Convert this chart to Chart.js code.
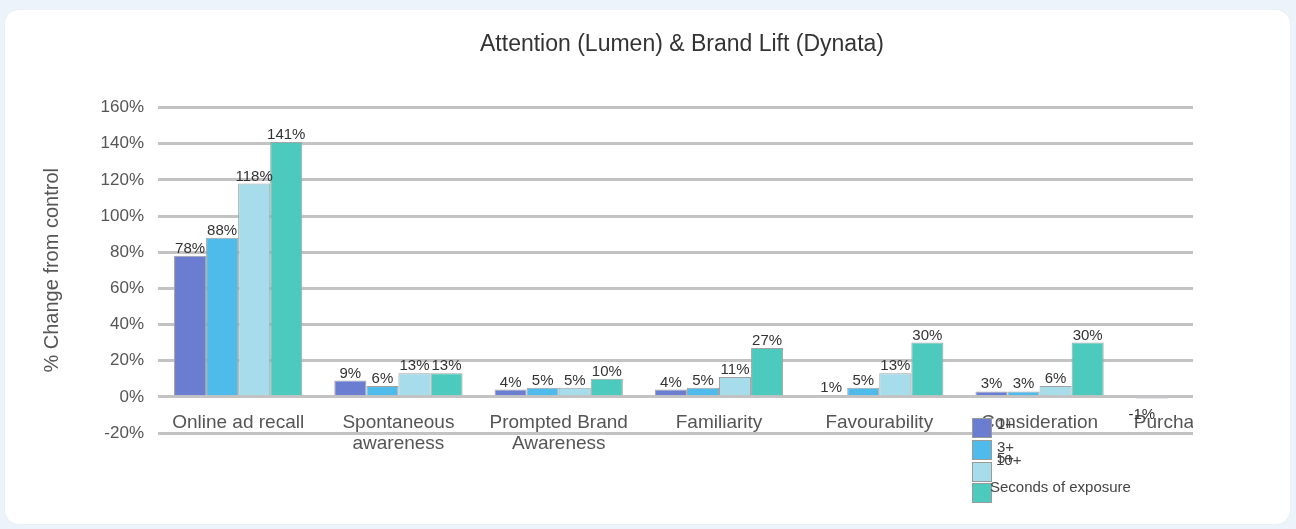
<!DOCTYPE html>
<html>
<head>
<meta charset="utf-8">
<script src="https://cdn.jsdelivr.net/npm/chart.js@4.4.0/dist/chart.umd.min.js"></script>
<style>
    html, body { margin: 0; padding: 0; background: #ecf3fa; overflow: hidden; }
    body { width: 1296px; height: 529px; position: relative; font-family: 'Liberation Sans', Arial, sans-serif; }
    .card { position: absolute; left: 5px; top: 10px; width: 1285px; height: 514px; background: #fff; border-radius: 14px; box-shadow: 0 0 2px rgba(0, 0, 0, 0.06); }
    .wrap { position: absolute; left: 0; top: 0; width: 1296px; height: 529px; overflow: hidden; }
    #chart { position: absolute; left: 0; top: 0; }
    .lg-box { position: absolute; left: 972px; width: 18px; height: 18px; border: 1px solid #9a9a9a; }
    .lg-text { position: absolute; font-size: 15px; line-height: 18px; color: #444; white-space: nowrap; }
</style>
</head>
<body>
<div class="card"></div>
<div class="wrap">
    <canvas id="chart" width="1328" height="529"></canvas>
    <div id="legend"></div>
</div>
<script>
const categories = [
    'Online ad recall',
    ['Spontaneous', 'awareness'],
    ['Prompted Brand', 'Awareness'],
    'Familiarity',
    'Favourability',
    'Consideration',
    'Purchase intent'
];
const seriesLabels = ['1+', '3+', '5+', '10+'];
const legendCaption = 'Seconds of exposure';
const seriesColors = ['#6b7dd0', '#4fbbea', '#a7dcea', '#4ccabd'];

// values in % change from control, per exposure group
const exp1 = [78, 9, 4, 4, 1, 3, -1];
const exp3 = [88, 6, 5, 5, 5, 3, null];
const exp5 = [118, 13, 5, 11, 13, 6, null];
const exp10 = [141, 13, 10, 27, 30, 30, null];

const yTicks = [160, 140, 120, 100, 80, 60, 40, 20, 0, -20];

const FONT = "'Liberation Sans', Arial, sans-serif";
const CLIP_RIGHT = 1193;

const valueLabels = {
    id: 'valueLabels',
    afterDatasetsDraw(chart) {
        const ctx = chart.ctx;
        ctx.save();
        ctx.font = '15px ' + FONT;
        ctx.fillStyle = '#333';
        ctx.textAlign = 'center';
        ctx.textBaseline = 'alphabetic';
        chart.data.datasets.forEach((ds, di) => {
            chart.getDatasetMeta(di).data.forEach((bar, i) => {
                const v = ds.data[i];
                if (v === null) return;
                if (v >= 0) {
                    ctx.fillText(v + '%', bar.x, bar.y - 3);
                } else {
                    ctx.fillText(v + '%', bar.x - 10, bar.y + 20);
                }
            });
        });
        ctx.restore();
    }
};

// the original chart is cut off on the right
const clipRight = {
    id: 'clipRight',
    afterDraw(chart) {
        chart.ctx.clearRect(CLIP_RIGHT, 85, chart.width - CLIP_RIGHT, 385);
    }
};

const datasets = [exp1, exp3, exp5, exp10].map((values, i) => ({
    label: seriesLabels[i],
    data: values,
    backgroundColor: seriesColors[i],
    borderColor: '#a3a3a3',
    borderWidth: 1,
    categoryPercentage: 0.8,
    barPercentage: 1.0
}));

new Chart(document.getElementById('chart'), {
    type: 'bar',
    data: { labels: categories, datasets: datasets },
    options: {
        responsive: false,
        animation: false,
        layout: { padding: { left: 36, right: 0, top: 0, bottom: 96 } },
        plugins: {
            legend: { display: false },
            tooltip: { enabled: false },
            title: {
                display: true,
                text: 'Attention (Lumen) & Brand Lift (Dynata)',
                color: '#333',
                font: { family: FONT, size: 23, weight: 'normal' },
                padding: { top: 31, bottom: 49 }
            }
        },
        scales: {
            x: {
                position: { y: 0 },
                grid: { display: false, drawTicks: false },
                border: { display: false },
                ticks: {
                    color: '#555',
                    font: { family: FONT, size: 19, lineHeight: 1.08 },
                    padding: 16,
                    maxRotation: 0,
                    autoSkip: false
                }
            },
            y: {
                min: -20,
                max: 160,
                afterBuildTicks(scale) {
                    scale.ticks = yTicks.map(v => ({ value: v }));
                },
                afterFit(scale) {
                    scale.width = 122;
                },
                grid: { color: '#c3c3c3', lineWidth: 3, drawTicks: false },
                border: { display: false },
                ticks: {
                    color: '#555',
                    font: { family: FONT, size: 17 },
                    padding: 14,
                    callback: v => v + '%'
                },
                title: {
                    display: true,
                    text: '% Change from control',
                    color: '#555',
                    font: { family: FONT, size: 20 }
                }
            },
            // empty right-hand space of the original page
            yRight: {
                position: 'right',
                grid: { display: false, drawTicks: false },
                border: { display: false },
                ticks: { display: false },
                afterFit(scale) {
                    scale.width = 48;
                }
            }
        }
    },
    plugins: [valueLabels, clipRight]
});

// legend as drawn in the original (overlapping, under the axis)
const legendEl = document.getElementById('legend');
const boxTops = [418, 440, 462, 483];
const textPos = [[997, 415], [997, 438], [997, 449], [996, 451]];
seriesLabels.forEach((label, i) => {
    const box = document.createElement('div');
    box.className = 'lg-box';
    box.style.top = boxTops[i] + 'px';
    box.style.background = seriesColors[i];
    legendEl.appendChild(box);

    const txt = document.createElement('div');
    txt.className = 'lg-text';
    txt.style.left = textPos[i][0] + 'px';
    txt.style.top = textPos[i][1] + 'px';
    txt.textContent = label;
    legendEl.appendChild(txt);
});
const cap = document.createElement('div');
cap.className = 'lg-text';
cap.style.left = '990px';
cap.style.top = '478px';
cap.textContent = legendCaption;
legendEl.appendChild(cap);
</script>
</body>
</html>
